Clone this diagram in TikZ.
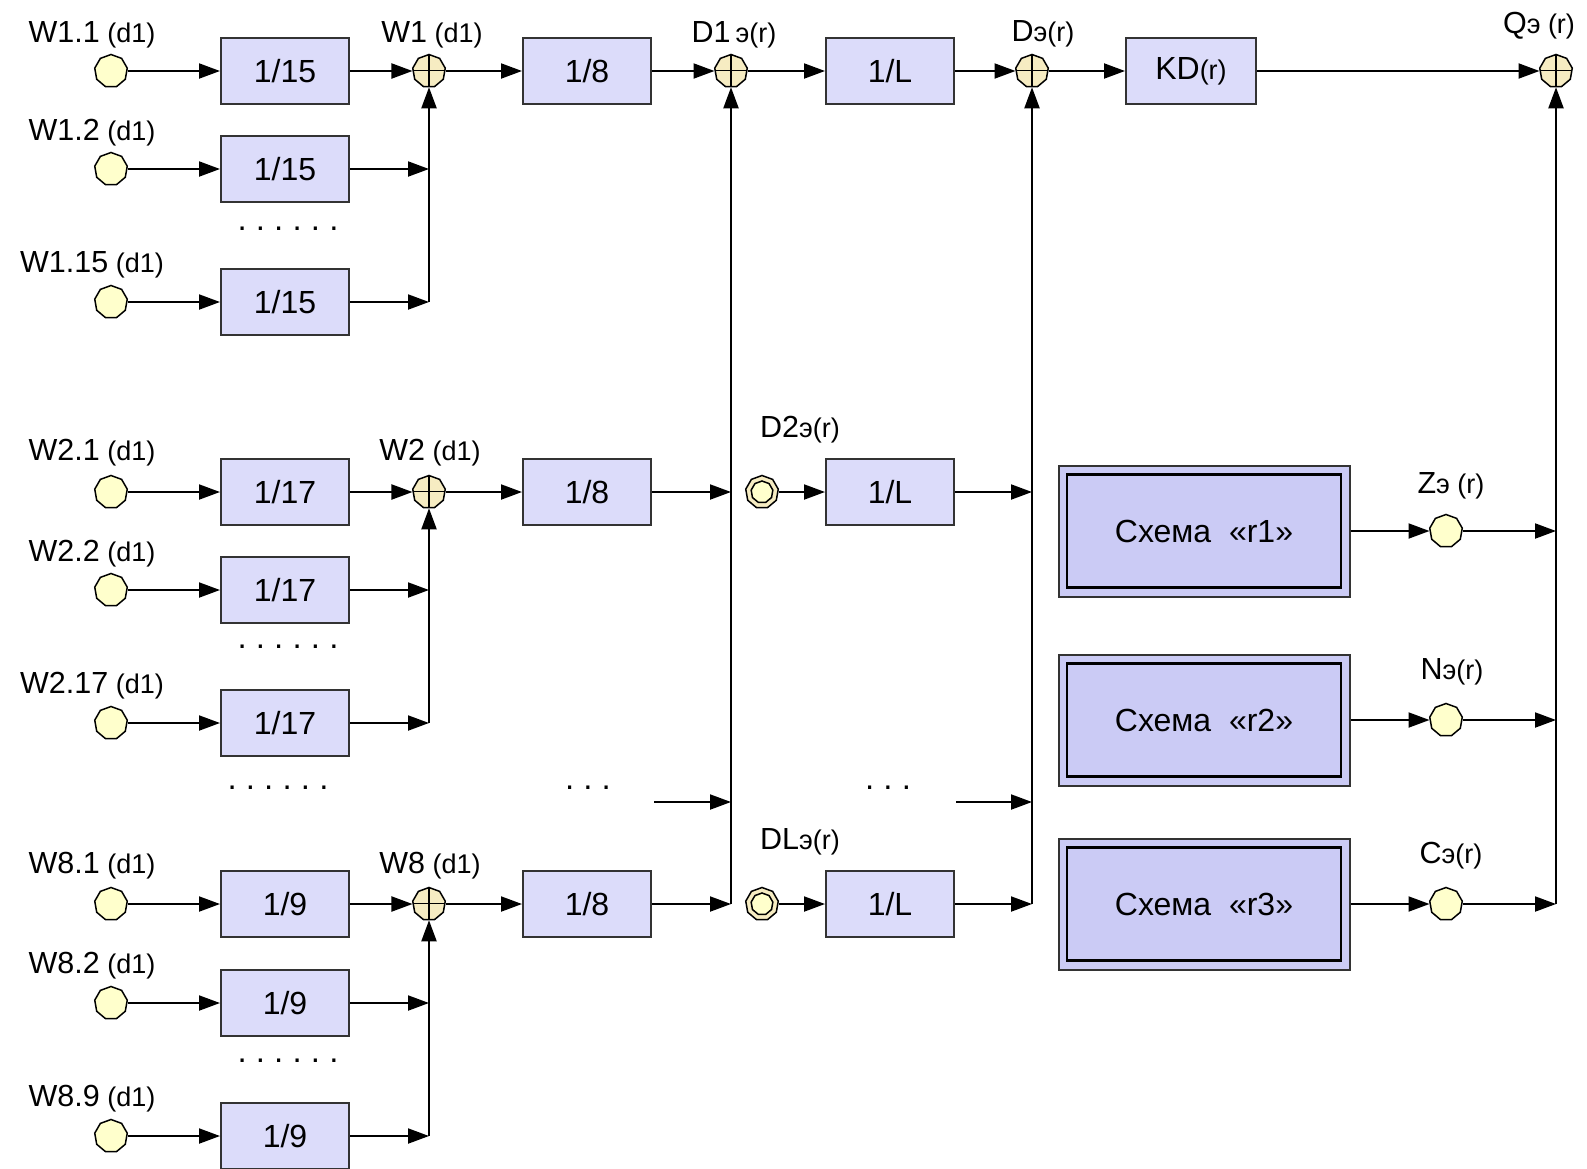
\documentclass[tikz,border=0pt]{standalone}
\usepackage{fontspec}
\setmainfont{Liberation Sans}
\usetikzlibrary{shapes.geometric,arrows.meta}
\definecolor{boxc}{HTML}{DCDCFA}
\definecolor{schc}{HTML}{CBCBF5}
\definecolor{circc}{HTML}{FFFFCC}
\definecolor{sumc}{HTML}{F6ECC2}
\definecolor{edgec}{HTML}{333333}
\newcommand\BF{\fontsize{30.5}{34}\selectfont}
\newcommand\SF{\fontsize{27}{30}\selectfont}
\newcommand\MF{\fontsize{32}{36}\selectfont}
\newcommand\DF{\fontsize{33}{36}\selectfont\frenchspacing}
\tikzset{
  blk/.style={draw=edgec, line width=2pt, fill=boxc, minimum width=128pt, minimum height=66pt, inner sep=0pt, font=\MF},
  src/.style={regular polygon, regular polygon sides=9, minimum size=33pt, inner sep=0pt, draw=black, line width=1.5pt, fill=circc},
  sumnode/.style={src, fill=sumc, path picture={\draw[line width=1.5pt] (path picture bounding box.north) -- (path picture bounding box.south) (path picture bounding box.west) -- (path picture bounding box.east);}},
  dsrc/.style={src, fill=sumc},
  dinner/.style={regular polygon, regular polygon sides=9, minimum size=22pt, inner sep=0pt, draw=black, line width=1.5pt, fill=circc},
  schout/.style={draw=edgec, line width=2pt, fill=schc, minimum width=291pt, minimum height=131pt, inner sep=0pt},
  schin/.style={draw=black, line width=2.5pt, minimum width=274pt, minimum height=113pt, inner sep=0pt, font=\MF},
  flow/.style={line width=2pt, -{Triangle[length=21pt,width=15pt]}},
  lbl/.style={anchor=base, inner sep=0pt, font=\SF},
  dts/.style={anchor=base, inner sep=0pt, font=\DF}
}
\begin{document}
\begin{tikzpicture}[x=1pt,y=-1pt]
\useasboundingbox (0,0) rectangle (1587,1168);
\clip (0,0) rectangle (1587,1168);
\fill[white] (0,0) rectangle (1587,1168);

% ---- group 1 ----
\node[src] (w11) at (111,71) {};
\node[blk] (b11) at (285,71) {1/15};
\node[sumnode] (s1) at (429,71) {};
\node[blk] (e1) at (587,71) {1/8};
\node[sumnode] (sd1) at (731,71) {};
\node[blk] (l1) at (890,71) {1/L};
\node[sumnode] (sd) at (1032,71) {};
\node[blk, minimum width=130pt] (kd) at (1191,71) {KD{\SF(r)}};
\node[sumnode] (sq) at (1556,71) {};

\node[src] (w12) at (111,169) {};
\node[blk] (b12) at (285,169) {1/15};
\coordinate (j12) at (429,169);
\node[src] (w13) at (111,302) {};
\node[blk] (b13) at (285,302) {1/15};
\coordinate (j13) at (429,302);

\draw[flow] (w11) -- (b11);
\draw[flow] (b11) -- (s1);
\draw[flow] (s1) -- (e1);
\draw[flow] (e1) -- (sd1);
\draw[flow] (sd1) -- (l1);
\draw[flow] (l1) -- (sd);
\draw[flow] (sd) -- (kd);
\draw[flow] (kd) -- (sq);
\draw[flow] (w12) -- (b12);
\draw[flow] (b12) -- (j12);
\draw[flow] (w13) -- (b13);
\draw[flow] (b13) -- (j13);
\draw[flow] (j13) -- (s1);

% ---- group 2 ----
\node[src] (w21) at (111,492) {};
\node[blk] (b21) at (285,492) {1/17};
\node[sumnode] (s2) at (429,492) {};
\node[blk] (e2) at (587,492) {1/8};
\coordinate (jd2) at (731,492);
\node[dsrc] (d2) at (762,492) {};
\node[dinner] (d2i) at (d2) {};
\node[blk] (l2) at (890,492) {1/L};
\coordinate (jq2) at (1032,492);

\node[src] (w22) at (111,590) {};
\node[blk] (b22) at (285,590) {1/17};
\coordinate (j22) at (429,590);
\node[src] (w23) at (111,723) {};
\node[blk] (b23) at (285,723) {1/17};
\coordinate (j23) at (429,723);

\draw[flow] (w21) -- (b21);
\draw[flow] (b21) -- (s2);
\draw[flow] (s2) -- (e2);
\draw[flow] (e2) -- (jd2);
\draw[flow] (d2) -- (l2);
\draw[flow] (l2) -- (jq2);
\draw[flow] (w22) -- (b22);
\draw[flow] (b22) -- (j22);
\draw[flow] (w23) -- (b23);
\draw[flow] (b23) -- (j23);
\draw[flow] (j23) -- (s2);

% ---- middle dots arrows ----
\coordinate (dl1) at (654,802);
\coordinate (dj1) at (731,802);
\coordinate (dl2) at (956,802);
\coordinate (dj2) at (1032,802);
\draw[flow] (dl1) -- (dj1);
\draw[flow] (dl2) -- (dj2);

% ---- group 8 ----
\node[src] (w81) at (111,904) {};
\node[blk] (b81) at (285,904) {1/9};
\node[sumnode] (s8) at (429,904) {};
\node[blk] (e8) at (587,904) {1/8};
\coordinate (jd8) at (731,904);
\node[dsrc] (d8) at (762,904) {};
\node[dinner] (d8i) at (d8) {};
\node[blk] (l8) at (890,904) {1/L};
\coordinate (jq8) at (1032,904);

\node[src] (w82) at (111,1003) {};
\node[blk] (b82) at (285,1003) {1/9};
\coordinate (j82) at (429,1003);
\node[src] (w83) at (111,1136) {};
\node[blk] (b83) at (285,1136) {1/9};
\coordinate (j83) at (429,1136);

\draw[flow] (w81) -- (b81);
\draw[flow] (b81) -- (s8);
\draw[flow] (s8) -- (e8);
\draw[flow] (e8) -- (jd8);
\draw[flow] (d8) -- (l8);
\draw[flow] (l8) -- (jq8);
\draw[flow] (w82) -- (b82);
\draw[flow] (b82) -- (j82);
\draw[flow] (w83) -- (b83);
\draw[flow] (b83) -- (j83);
\draw[flow] (j83) -- (s8);

\draw[flow] (jd8) -- (sd1);
\draw[flow] (jq8) -- (sd);

% ---- schemes ----
\node[schout] (sc1) at (1204,531) {};
\node[schin] (sc1i) at (sc1) {Схема\ \ «r1»};
\node[src] (z) at (1446,531) {};
\coordinate (jz) at (1556,531);
\node[schout] (sc2) at (1204,720) {};
\node[schin] (sc2i) at (sc2) {Схема\ \ «r2»};
\node[src] (n) at (1446,720) {};
\coordinate (jn) at (1556,720);
\node[schout] (sc3) at (1204,904) {};
\node[schin] (sc3i) at (sc3) {Схема\ \ «r3»};
\node[src] (c) at (1446,904) {};
\coordinate (jc) at (1556,904);

\draw[flow] (sc1) -- (z);
\draw[flow] (z) -- (jz);
\draw[flow] (sc2) -- (n);
\draw[flow] (n) -- (jn);
\draw[flow] (sc3) -- (c);
\draw[flow] (c) -- (jc);
\draw[flow] (jc) -- (sq);

% ---- labels ----
\node[lbl] (t11) at (92,42) {{\BF W1.1} (d1)};
\node[lbl] (t12) at (92,140) {{\BF W1.2} (d1)};
\node[lbl] (t13) at (92,272) {{\BF W1.15} (d1)};
\node[lbl] (ts1) at (432,42) {{\BF W1} (d1)};
\node[lbl] (tsd1) at (734,42) {{\BF D1\,}э(r)};
\node[lbl] (tsd) at (1043,41) {{\BF D}э(r)};
\node[lbl] (tsq) at (1539,33) {{\BF Q}э (r)};
\node[lbl] (t21) at (92,460) {{\BF W2.1} (d1)};
\node[lbl] (t22) at (92,561) {{\BF W2.2} (d1)};
\node[lbl] (t23) at (92,693) {{\BF W2.17} (d1)};
\node[lbl] (ts2) at (430,460) {{\BF W2} (d1)};
\node[lbl] (td2) at (800,437) {{\BF D2}э(r)};
\node[lbl] (tz) at (1451,493) {{\BF Z}э (r)};
\node[lbl] (tn) at (1452,679) {{\BF N}э(r)};
\node[lbl] (tc) at (1451,863) {{\BF C}э(r)};
\node[lbl] (td8) at (800,849) {{\BF DL}э(r)};
\node[lbl] (t81) at (92,873) {{\BF W8.1} (d1)};
\node[lbl] (ts8) at (430,873) {{\BF W8} (d1)};
\node[lbl] (t82) at (92,973) {{\BF W8.2} (d1)};
\node[lbl] (t83) at (92,1106) {{\BF W8.9} (d1)};

% ---- dots ----
\node[dts] (dt1) at (288,230) {. . . . . .};
\node[dts] (dt2) at (288,648) {. . . . . .};
\node[dts] (dt3) at (278,789) {. . . . . .};
\node[dts] (dt4) at (588,789) {. . .};
\node[dts] (dt5) at (888,789) {. . .};
\node[dts] (dt6) at (288,1062) {. . . . . .};
\end{tikzpicture}
\end{document}
